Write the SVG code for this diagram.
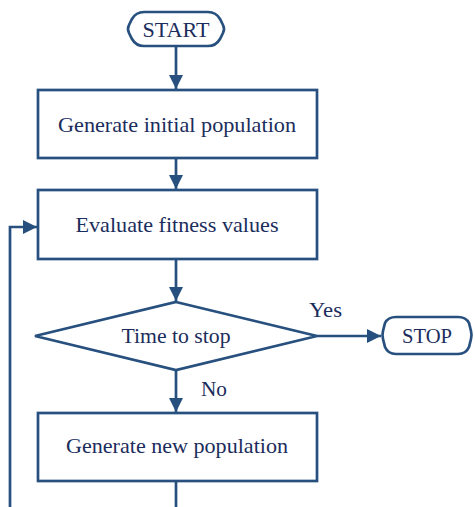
<svg xmlns="http://www.w3.org/2000/svg" width="475" height="507" viewBox="0 0 475 507">
<style>
.s{fill:#fff;stroke:#27507f;stroke-width:2.7}
.c{fill:none;stroke:#27507f;stroke-width:2.7}
.t{font-family:'Liberation Serif','Times New Roman','DejaVu Serif',serif;font-size:21px;fill:#1b2d5c;text-anchor:middle}
.l{font-family:'Liberation Serif','Times New Roman','DejaVu Serif',serif;font-size:21px;fill:#1b2d5c}
</style>
<defs>
<marker id="a" viewBox="0 0 14 14" refX="14" refY="7" markerWidth="14" markerHeight="14" markerUnits="userSpaceOnUse" orient="auto">
<path d="M0,0 L14,7 L0,14 Z" fill="#27507f"/>
</marker>
</defs>
<g id="connectors">
<line class="c" x1="176" y1="46" x2="176" y2="89" marker-end="url(#a)"/>
<line class="c" x1="176" y1="158" x2="176" y2="189" marker-end="url(#a)"/>
<line class="c" x1="176" y1="259" x2="176" y2="301" marker-end="url(#a)"/>
<line class="c" x1="317" y1="336" x2="381" y2="336" marker-end="url(#a)"/>
<line class="c" x1="176" y1="370" x2="176" y2="412" marker-end="url(#a)"/>
<line class="c" x1="176" y1="481" x2="176" y2="507"/>
<polyline class="c" points="10,507 10,227 37,227" marker-end="url(#a)"/>
<text class="l" x="309" y="317" textLength="33" lengthAdjust="spacingAndGlyphs">Yes</text>
<text class="l" x="201" y="396" textLength="26" lengthAdjust="spacingAndGlyphs">No</text>
</g>
<g id="start">
<path class="s" d="M144,12 H208 Q216,12 220,19 L223,25 Q225,29 223,33 L220,39 Q216,46 208,46 H144 Q136,46 132,39 L129,33 Q127,29 129,25 L132,19 Q136,12 144,12 Z"/>
<text class="t" x="176" y="37" textLength="67" lengthAdjust="spacingAndGlyphs">START</text>
</g>
<g id="init">
<rect class="s" x="38" y="90" width="279" height="68"/>
<text class="t" x="177" y="132" textLength="238" lengthAdjust="spacingAndGlyphs">Generate initial population</text>
</g>
<g id="evaluate">
<rect class="s" x="38" y="190" width="279" height="69"/>
<text class="t" x="177" y="232" textLength="203" lengthAdjust="spacingAndGlyphs">Evaluate fitness values</text>
</g>
<g id="decision">
<polygon class="s" points="176,302 317,336 176,370 35,336"/>
<text class="t" x="176" y="343" textLength="109" lengthAdjust="spacingAndGlyphs">Time to stop</text>
</g>
<g id="stop">
<path class="s" d="M396,317 H458 Q466,317 469,323 L471,331 Q472,335 471,339 L469,347 Q466,354 458,354 H396 Q388,354 385,347 L383,339 Q382,335 383,331 L385,323 Q388,317 396,317 Z"/>
<text class="t" x="427" y="343" textLength="50" lengthAdjust="spacingAndGlyphs">STOP</text>
</g>
<g id="newpop">
<rect class="s" x="38" y="413" width="279" height="68"/>
<text class="t" x="177" y="453" textLength="222" lengthAdjust="spacingAndGlyphs">Generate new population</text>
</g>
</svg>
